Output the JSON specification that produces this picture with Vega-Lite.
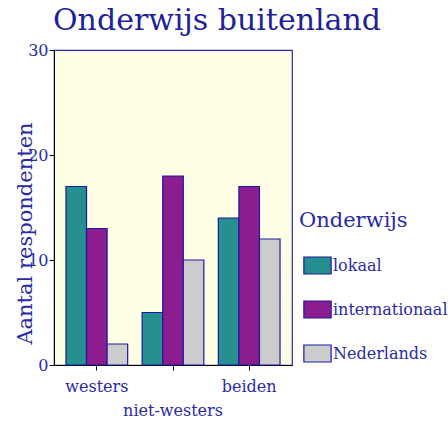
{
  "$schema": "https://vega.github.io/schema/vega-lite/v6.json",
  "autosize": "none",
  "padding": {"left": 54, "top": 50, "right": 156, "bottom": 56},
  "width": 238,
  "height": 315,
  "background": "white",
  "title": {"text": "Onderwijs buitenland", "font": "DejaVu Serif", "fontSize": 30, "fontWeight": "normal", "color": "#1f1f99", "anchor": "middle", "baseline": "alphabetic", "dx": 44, "dy": 30, "offset": 12},
  "config": {
    "view": {"fill": "#FFFFE6", "stroke": "#2a2aa8", "strokeWidth": 1.2},
    "font": "DejaVu Serif"
  },
  "data": {"values": [
    {"regio": "westers", "onderwijs": "lokaal", "aantal": 17},
    {"regio": "westers", "onderwijs": "internationaal", "aantal": 13},
    {"regio": "westers", "onderwijs": "Nederlands", "aantal": 2},
    {"regio": "niet-westers", "onderwijs": "lokaal", "aantal": 5},
    {"regio": "niet-westers", "onderwijs": "internationaal", "aantal": 18},
    {"regio": "niet-westers", "onderwijs": "Nederlands", "aantal": 10},
    {"regio": "beiden", "onderwijs": "lokaal", "aantal": 14},
    {"regio": "beiden", "onderwijs": "internationaal", "aantal": 17},
    {"regio": "beiden", "onderwijs": "Nederlands", "aantal": 12}
  ]},
  "mark": {"type": "bar", "stroke": "#1a1a9e", "strokeWidth": 1.2, "opacity": 1},
  "encoding": {
    "x": {"field": "regio", "type": "nominal", "sort": ["westers", "niet-westers", "beiden"],
      "scale": {"paddingInner": 0.19, "paddingOuter": 0.157},
      "axis": {"title": null, "labelAngle": 0, "labelFont": "DejaVu Serif", "labelFontSize": 16, "labelColor": "#2a2aa8",
        "domainColor": "black", "tickColor": "black", "tickSize": 5,
        "labelPadding": {"condition": {"test": "datum.value == 'niet-westers'", "value": 32}, "value": 8}}},
    "xOffset": {"field": "onderwijs", "type": "nominal", "sort": ["lokaal", "internationaal", "Nederlands"]},
    "y": {"field": "aantal", "type": "quantitative", "scale": {"domain": [0, 30], "nice": false},
      "axis": {"title": "Aantal respondenten", "values": [0, 10, 20, 30], "grid": false,
        "labelFont": "DejaVu Serif", "labelFontSize": 16, "labelColor": "#2a2aa8", "labelPadding": 1,
        "domainColor": "black", "tickColor": "black", "tickSize": 5,
        "titleFont": "DejaVu Serif", "titleFontSize": 21, "titleFontWeight": "normal", "titleColor": "#2a2aa8",
        "titleX": -23, "titleY": 183, "titleBaseline": "alphabetic", "titleAngle": -90}},
    "fill": {"field": "onderwijs", "type": "nominal", "sort": ["lokaal", "internationaal", "Nederlands"],
      "scale": {"domain": ["lokaal", "internationaal", "Nederlands"], "range": ["#278f8f", "#8b1d8f", "#cccccc"]},
      "legend": {"title": "Onderwijs", "orient": "none", "legendX": 245, "legendY": 160,
        "titleFont": "DejaVu Serif", "titleFontSize": 21, "titleFontWeight": "normal", "titleColor": "#2a2aa8", "titlePadding": 25,
        "labelFont": "DejaVu Serif", "labelFontSize": 16, "labelColor": "#2a2aa8", "labelOffset": 6, "labelBaseline": "middle",
        "symbolType": "M-1.6,-1L1.6,-1L1.6,1L-1.6,1Z", "symbolSize": 290, "symbolStrokeColor": "#1a1a9e", "symbolStrokeWidth": 1.2,
        "rowPadding": 21, "symbolOffset": 9}}
  }
}
